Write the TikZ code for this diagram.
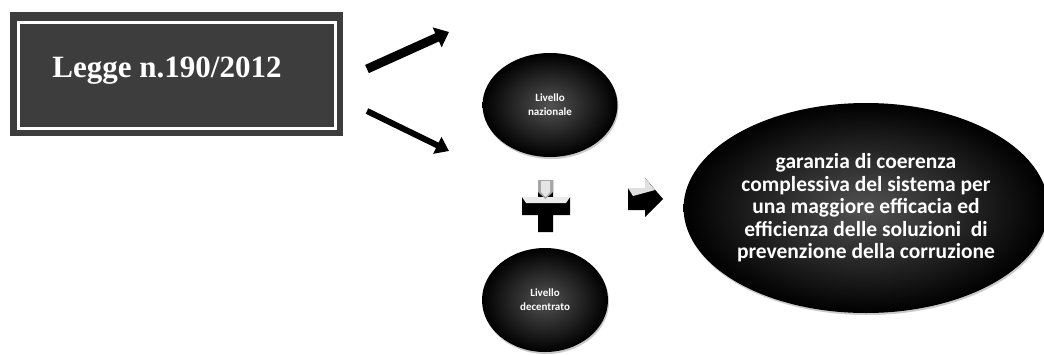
\documentclass[tikz,border=0pt]{standalone}
\usepackage{fontspec}
\setmainfont{Liberation Serif}
\newfontfamily\carlito{Carlito}
\usetikzlibrary{shapes.geometric,arrows.meta,shadows}
\begin{document}
\begin{tikzpicture}[x=1pt,y=-1pt,
  blob/.style={ellipse,inner sep=0pt,inner color=black!68,outer color=black,
    draw=none,text=white,font=\carlito\bfseries,align=center,
    drop shadow={shadow xshift=1pt,shadow yshift=-2pt,opacity=0.35,fill=black!60}},
  bigarrow/.style={line width=9pt,-{Triangle[length=13pt,width=21pt]}},
  smallarrow/.style={line width=6pt,-{Triangle[length=13pt,width=18pt]}}]
\useasboundingbox (0,0) rectangle (1044,354);
% law box
\node[fill=black!76,minimum width=333pt,minimum height=124pt,inner sep=0pt] (law) at (176.5,74) {};
\draw[white,line width=3pt] (18,22) rectangle (335,128);
\node[text=white,font=\fontsize{31}{33}\selectfont\bfseries] (lawtxt) at (167,71) {Legge n.190/2012};
% free arrows
\coordinate (a1s) at (367,69);
\coordinate (a1e) at (449,32);
\coordinate (a2s) at (367,111);
\coordinate (a2e) at (449,151);
\draw[bigarrow] (a1s) -- (a1e);
\draw[smallarrow] (a2s) -- (a2e);
% ellipses
\node[blob,minimum width=135pt,minimum height=104pt,font=\carlito\bfseries\fontsize{11}{14}\selectfont] (naz) at (550,105) {Livello\\nazionale};
\node[blob,minimum width=126pt,minimum height=104pt,font=\carlito\bfseries\fontsize{11}{14}\selectfont] (dec) at (545,300) {Livello\\decentrato};
\node[blob,minimum width=358pt,minimum height=210pt,font=\carlito\bfseries\fontsize{21.5}{22.5}\selectfont] (gar) at (866,208)
  {garanzia di coerenza\\complessiva del sistema per\\una maggiore efficacia ed\\efficienza delle soluzioni~ di\\prevenzione della corruzione};
% plus sign
\fill[black] (538,180) -- (553,180) -- (553,197) -- (570,197) -- (570,215) -- (553,215) -- (553,232) -- (538,232) -- (538,215) -- (522,215) -- (522,197) -- (538,197) -- cycle;
\fill[black!8] (522,197) -- (570,197) -- (566,203) -- (526,203) -- cycle;
\fill[black!35] (538,180) -- (553,180) -- (553,192) -- (545.5,199) -- (538,192) -- cycle;
\fill[black!10] (541,181) -- (550,181) -- (550,192) -- (545.5,197) -- (541,192) -- cycle;
% right block arrow
\fill[black] (628,188) -- (645,188) -- (645,178) -- (663,199) -- (645,217) -- (645,210) -- (628,210) -- cycle;
\fill[black!12] (628,188) -- (645,188) -- (645,178) -- (655,190) -- (633,196) -- cycle;
\end{tikzpicture}
\end{document}
